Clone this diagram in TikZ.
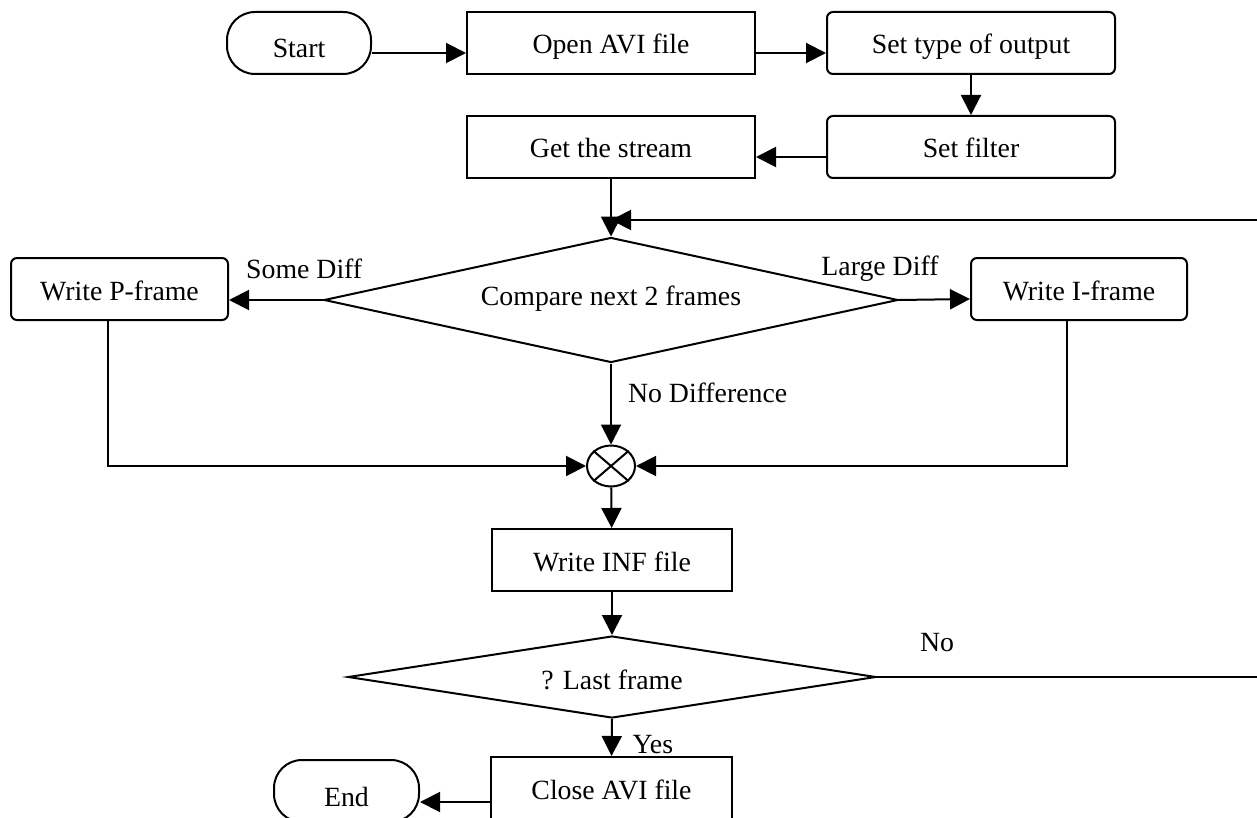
\documentclass[tikz,border=0pt]{standalone}
\usepackage{fontspec}
\setmainfont{Liberation Serif}
\usetikzlibrary{shapes,arrows.meta}

\newcommand{\flowfont}{\fontsize{13.9}{16}\selectfont}

\begin{document}
\begin{tikzpicture}[x = 0.5pt, y = -0.5pt, line width = 1pt]

    % Define block styles
    \tikzstyle{block} = [rectangle, draw, text centered, inner sep = 0pt,
        minimum width = 144pt, minimum height = 31pt, font = \flowfont,
        text height = 13pt, text depth = 2pt]
    \tikzstyle{rblock} = [block, rounded corners = 3pt]
    \tikzstyle{terminal} = [block, rounded corners = 14pt, minimum width = 72pt,
        text height = 17pt]
    \tikzstyle{decision} = [diamond, draw, inner sep = 0pt, aspect = 4,
        font = \flowfont, text depth = 2pt]
    \tikzstyle{lbl} = [inner sep = 0pt, font = \flowfont]
    \tikzstyle{line} = [draw, -{Triangle[length = 10pt, width = 10pt]}]

    \useasboundingbox (0,0) rectangle (1257,818);
    \clip (0,0) rectangle (1257,818);

    % Place nodes
    \node [terminal] (start) at (299,43) {Start};
    \node [block] (open) at (611,43) {Open AVI file};
    \node [rblock] (settype) at (971,43) {Set type of output};
    \node [rblock] (setfilter) at (971,147) {Set filter};
    \node [block] (stream) at (611,147) {Get the stream};
    \node [decision, minimum width = 287pt, minimum height = 62.5pt,
        text height = 7pt] (compare) at (611,300) {Compare next 2 frames};
    \node [rblock, minimum width = 108.5pt] (pframe) at (119.5,289) {Write P-frame};
    \node [rblock, minimum width = 108pt] (iframe) at (1079,289) {Write I-frame};
    \node [ellipse, draw, minimum width = 24pt, minimum height = 20.5pt,
        inner sep = 0pt] (merge) at (611,466) {};
    \node [block, minimum width = 120pt] (inf) at (612,560) {Write INF file};
    \node [decision, minimum width = 264pt, minimum height = 41pt,
        text height = 14pt] (last) at (612,677) {? Last frame};
    \node [block, minimum width = 120.5pt] (close) at (611.5,788) {Close AVI file};
    \node [terminal, minimum width = 72.5pt] (finish) at (346.5,791) {End};
    \coordinate (loopin) at (611,220);

    % Cross in the merge point
    \draw (merge.north west) -- (merge.south east);
    \draw (merge.north east) -- (merge.south west);

    % Draw edges
    \path [line] ([yshift = -5pt]start.east) -- ([yshift = -5pt]open.west);
    \path [line] ([yshift = -5pt]open.east) -- ([yshift = -5pt]settype.west);
    \path [line] (settype) -- (setfilter);
    \path [line] ([yshift = -5pt]setfilter.west) -- ([yshift = -5pt]stream.east);
    \path [line] (stream) -- (compare);
    \path [line] (compare.west) --
        node [lbl, pos = 0.2, yshift = 15.5pt] {Some Diff}
        ([yshift = -5.5pt]pframe.east);
    \path [line] (compare.east) --
        node [lbl, pos = 0, xshift = -9.5pt, yshift = 15.5pt] {Large Diff}
        ([yshift = -5pt]iframe.west);
    \path [line] (compare.south) --
        node [lbl, pos = 0.36, anchor = west, xshift = 8pt] {No Difference}
        (merge.north);
    \path [line] ([xshift = -6pt]pframe.south) |- (merge.west);
    \path [line] ([xshift = -6pt]iframe.south) |- (merge.east);
    \path [line] (merge) -- (inf);
    \path [line] (inf) -- (last);
    \path [line] (last.south) --
        node [lbl, pos = 0.7, anchor = west, xshift = 10pt] {Yes}
        (close.north);
    \path [line] (last.east) --
        node [lbl, pos = 0.15, yshift = 17pt] {No}
        ++(400,0) |- (loopin);
    \path [line] ([yshift = -7pt]close.west) -- ([yshift = -5.5pt]finish.east);

\end{tikzpicture}
\end{document}
